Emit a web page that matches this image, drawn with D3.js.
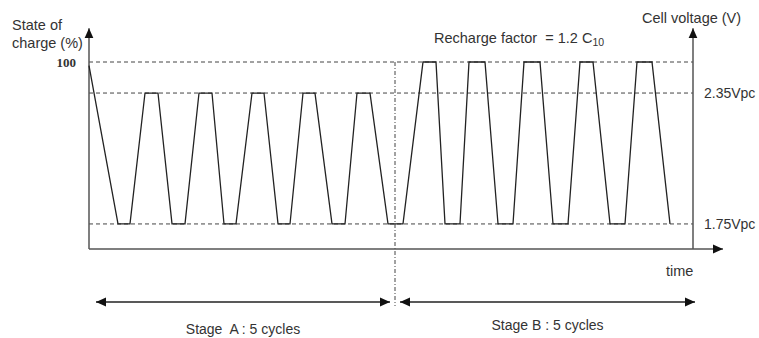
<!DOCTYPE html>
<html>
<head>
<meta charset="utf-8">
<script src="https://cdn.jsdelivr.net/npm/d3@7"></script>
<style>
  html, body { margin: 0; padding: 0; background: #fff; }
  svg { display: block; }
  text { font-family: "Liberation Sans", Arial, sans-serif; fill: #333; white-space: pre; }
</style>
</head>
<body>
<svg id="chart" width="759" height="338"></svg>
<script>
// Charge level over time (0 = baseline, 100 = full charge)
const cycleTime  = [0, 29, 41, 56, 69, 83, 96, 110, 123, 135, 147, 163, 175, 189, 201, 214, 226, 243, 256, 268, 281,
                    299, 314, 334, 347, 356, 371, 380, 396, 409, 424, 435, 451, 464, 479, 491, 504, 521, 536, 548, 563, 581];
const cycleLevel = [98, 13.4, 13.4, 83.4, 83.4, 13.4, 13.4, 83.4, 83.4, 13.4, 13.4, 83.4, 83.4, 13.4, 13.4, 83.4, 83.4, 13.4, 13.4, 83.4, 83.4,
                    13.4, 13.4, 100, 100, 13.4, 13.4, 100, 100, 13.4, 13.4, 100, 100, 13.4, 13.4, 100, 100, 13.4, 13.4, 100, 100, 13.4];

// Reference levels
const refLevels  = [100, 83.4, 13.4];
const socTicks   = [100];
const voltTicks  = [83.4, 13.4];
const voltLabels = ["2.35Vpc", "1.75Vpc"];

// Stage boundaries on the time axis
const stageNames = ["Stage  A : 5 cycles", "Stage B : 5 cycles"];
const stageStart = [7, 311];
const stageEnd   = [301, 606];
const stageSplit = 306;

const svg = d3.select("#chart");

const x = d3.scaleLinear().domain([0, 604]).range([89, 693]);
const y = d3.scaleLinear().domain([0, 100]).range([249, 62]);
const yTop = 118;      // axis arrow tips
const xEnd = 634;      // time axis arrow tip

const axisColor = "#555";

// arrowhead marker
const defs = svg.append("defs");
defs.append("marker")
  .attr("id", "arrow")
  .attr("viewBox", "0 0 10 10")
  .attr("refX", 10).attr("refY", 5)
  .attr("markerWidth", 10).attr("markerHeight", 10)
  .attr("markerUnits", "userSpaceOnUse")
  .attr("orient", "auto-start-reverse")
  .append("path")
  .attr("d", "M0,0.5 L10,5 L0,9.5 Z")
  .attr("fill", "#111");

// dashed reference levels
svg.append("g").selectAll("line")
  .data(refLevels)
  .join("line")
  .attr("x1", x(0)).attr("x2", x(604))
  .attr("y1", d => y(d)).attr("y2", d => y(d))
  .attr("stroke", "#444")
  .attr("stroke-width", 1)
  .attr("stroke-dasharray", "4,3");

// stage separator (dash-dot)
svg.append("line")
  .attr("x1", x(stageSplit)).attr("x2", x(stageSplit))
  .attr("y1", y(100)).attr("y2", 306)
  .attr("stroke", "#444")
  .attr("stroke-width", 1)
  .attr("stroke-dasharray", "4,2,1,2");

// left axis (state of charge)
const leftAxis = svg.append("g")
  .attr("transform", `translate(${x(0)},0)`)
  .call(d3.axisLeft(y).tickValues(socTicks).tickSize(0).tickSizeOuter(0).tickPadding(13).tickFormat(d3.format("d")));
leftAxis.select(".domain").remove();
leftAxis.selectAll("text")
  .style("font-family", "'Liberation Serif', 'Times New Roman', serif")
  .style("font-weight", "bold")
  .style("font-size", "13px")
  .attr("fill", "#111");
leftAxis.append("line")
  .attr("x1", 0).attr("x2", 0)
  .attr("y1", y(0)).attr("y2", y(yTop))
  .attr("stroke", axisColor).attr("stroke-width", 1.5)
  .attr("marker-end", "url(#arrow)");

// right axis (cell voltage)
const rightAxis = svg.append("g")
  .attr("transform", `translate(${x(604)},0)`)
  .call(d3.axisRight(y).tickValues(voltTicks).tickSize(0).tickSizeOuter(0).tickPadding(11)
    .tickFormat((d, i) => voltLabels[i]));
rightAxis.select(".domain").remove();
rightAxis.selectAll("text")
  .style("font-family", "'Liberation Sans', Arial, sans-serif")
  .style("font-size", "14px")
  .attr("fill", "#333");
rightAxis.append("line")
  .attr("x1", 0).attr("x2", 0)
  .attr("y1", y(0)).attr("y2", y(yTop))
  .attr("stroke", axisColor).attr("stroke-width", 1.5)
  .attr("marker-end", "url(#arrow)");

// time axis
svg.append("line")
  .attr("x1", x(0)).attr("x2", x(xEnd))
  .attr("y1", y(0)).attr("y2", y(0))
  .attr("stroke", axisColor).attr("stroke-width", 1.5)
  .attr("marker-end", "url(#arrow)");

// charge/discharge waveform
const wave = d3.line().x(d => x(d[0])).y(d => y(d[1]));
svg.append("path")
  .datum(d3.zip(cycleTime, cycleLevel))
  .attr("d", wave)
  .attr("fill", "none")
  .attr("stroke", "#222")
  .attr("stroke-width", 1.3)
  .attr("stroke-linejoin", "miter");

// stage spans
const stageY = 302;
stageNames.forEach((name, i) => {
  svg.append("line")
    .attr("x1", x(stageStart[i])).attr("x2", x(stageEnd[i]))
    .attr("y1", stageY).attr("y2", stageY)
    .attr("stroke", "#222").attr("stroke-width", 1.3)
    .attr("marker-start", "url(#arrow)")
    .attr("marker-end", "url(#arrow)");
  svg.append("text")
    .attr("x", (x(stageStart[i]) + x(stageEnd[i])) / 2)
    .attr("y", i === 0 ? 334 : 330)
    .attr("text-anchor", "middle")
    .style("font-size", "14px")
    .text(name);
});

// titles
const labelSize = "14.5px";
svg.append("text").attr("x", 12).attr("y", 30).style("font-size", labelSize).text("State of");
svg.append("text").attr("x", 12).attr("y", 48).style("font-size", labelSize).text("charge (%)");
svg.append("text").attr("x", 642).attr("y", 23).style("font-size", labelSize).text("Cell voltage (V)");
svg.append("text").attr("x", 666).attr("y", 276).style("font-size", labelSize).text("time");

const rf = svg.append("text").attr("x", 434).attr("y", 43).style("font-size", labelSize);
rf.append("tspan").text("Recharge factor  = 1.2 C");
rf.append("tspan").attr("dy", 3).style("font-size", "10.5px").text("10");
</script>
</body>
</html>
